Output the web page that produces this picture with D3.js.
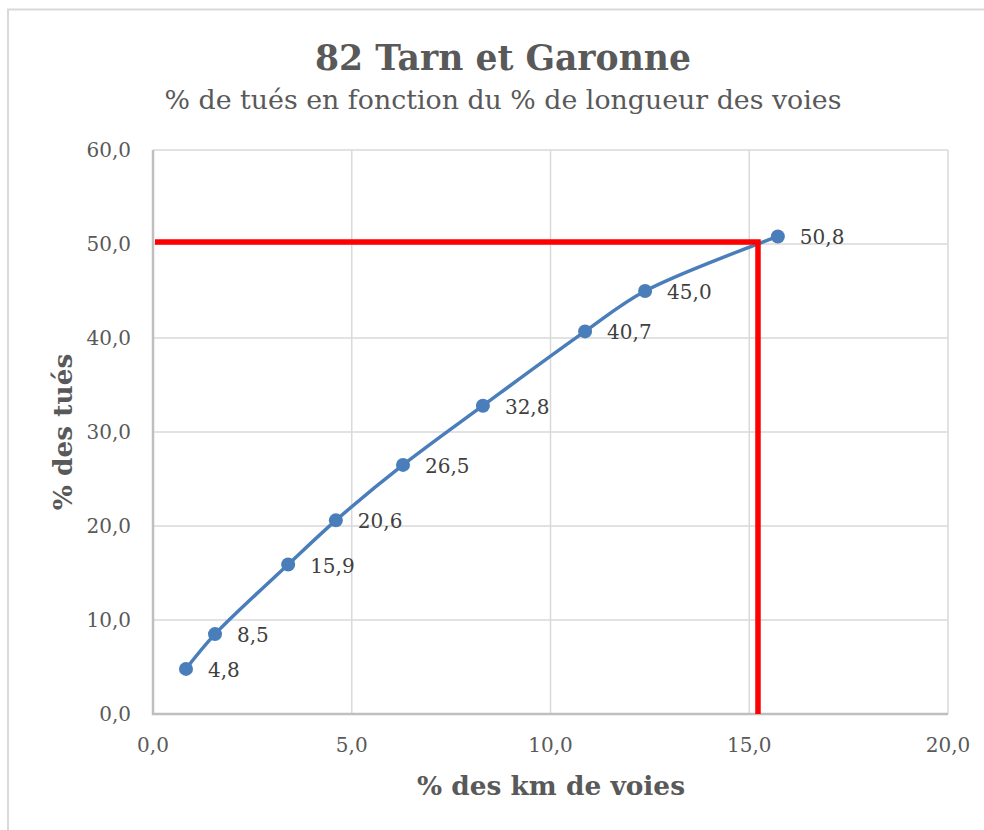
<!DOCTYPE html>
<html><head><meta charset="utf-8">
<script src="https://cdn.jsdelivr.net/npm/d3@7"></script>
<style>body{margin:0;background:#fff}svg{display:block}</style>
</head><body>
<svg id="c" width="984" height="830"></svg>
<script>
const xValues = [0.83, 1.56, 3.40, 4.60, 6.29, 8.30, 10.87, 12.38, 15.72];
const yValues = [4.8, 8.5, 15.9, 20.6, 26.5, 32.8, 40.7, 45.0, 50.8];
const xTicks = [0, 5, 10, 15, 20];
const yTicks = [0, 10, 20, 30, 40, 50, 60];
const refX = 15.22, refY = 50.2;
const title = "82 Tarn et Garonne";
const subtitle = "% de tués en fonction du % de longueur des voies";
const xTitle = "% des km de voies";
const yTitle = "% des tués";

const svg = d3.select("#c");
const font = "'DejaVu Serif', 'Liberation Serif', serif";
const L = 153, R = 948, T = 150, B = 714;
const x = d3.scaleLinear().domain([0, 20]).range([L, R]);
const y = d3.scaleLinear().domain([0, 60]).range([B, T]);
const fmt = v => v.toFixed(1).replace(".", ",");

// frame
svg.append("path").attr("d", `M8,830 V9.5 H984`).attr("fill","none").attr("stroke","#d9d9d9").attr("stroke-width",2);

// gridlines
const g = svg.append("g");
g.selectAll("line.h").data(yTicks.slice(1)).join("line")
  .attr("x1", L).attr("x2", R).attr("y1", d=>y(d)).attr("y2", d=>y(d))
  .attr("stroke","#d9d9d9").attr("stroke-width",1.5);
g.selectAll("line.v").data(xTicks.slice(1)).join("line")
  .attr("y1", T).attr("y2", B).attr("x1", d=>x(d)).attr("x2", d=>x(d))
  .attr("stroke","#d9d9d9").attr("stroke-width",1.5);
// axes lines
svg.append("path").attr("d", `M${L},${T} V${B} H${R}`).attr("fill","none").attr("stroke","#bfbfbf").attr("stroke-width",2.5);

// tick labels
svg.selectAll("text.yt").data(yTicks).join("text")
  .attr("x", L-22).attr("y", d=>y(d)).attr("dy","0.35em").attr("text-anchor","end")
  .attr("font-family",font).attr("font-size",20).attr("fill","#595959").text(fmt);
svg.selectAll("text.xt").data(xTicks).join("text")
  .attr("x", d=>x(d)).attr("y", B+38).attr("text-anchor","middle")
  .attr("font-family",font).attr("font-size",20).attr("fill","#595959").text(fmt);

// titles
svg.append("text").attr("x",503).attr("y",70).attr("text-anchor","middle")
  .attr("font-family",font).attr("font-weight","bold").attr("font-size",34.6).attr("fill","#595959").text(title);
svg.append("text").attr("x",503).attr("y",109).attr("text-anchor","middle")
  .attr("font-family",font).attr("font-size",26.8).attr("fill","#595959").text(subtitle);
svg.append("text").attr("x",551).attr("y",795).attr("text-anchor","middle")
  .attr("font-family",font).attr("font-weight","bold").attr("font-size",26.4).attr("fill","#595959").text(xTitle);
svg.append("text").attr("transform",`translate(72,${(T+B)/2}) rotate(-90)`).attr("text-anchor","middle")
  .attr("font-family",font).attr("font-weight","bold").attr("font-size",26.4).attr("fill","#595959").text(yTitle);

// series
const data = xValues.map((v,i)=>({x:v,y:yValues[i]}));
svg.append("path").datum(data)
  .attr("d", d3.line().x(d=>x(d.x)).y(d=>y(d.y)).curve(d3.curveCatmullRom.alpha(0.5)))
  .attr("fill","none").attr("stroke","#4a7ebb").attr("stroke-width",3.5);

// red reference lines
svg.append("path").attr("d", `M${x(0)+2},${y(refY)} H${x(refX)} V${B}`)
  .attr("fill","none").attr("stroke","#ff0000").attr("stroke-width",5.5);

svg.selectAll("circle").data(data).join("circle")
  .attr("cx", d=>x(d.x)).attr("cy", d=>y(d.y)).attr("r",7).attr("fill","#4a7ebb");
svg.selectAll("text.dl").data(data).join("text")
  .attr("x", d=>x(d.x)+22).attr("y", d=>y(d.y)+1).attr("dy","0.35em")
  .attr("font-family",font).attr("font-size",20).attr("fill","#404040").text(d=>fmt(d.y));
</script>
</body></html>
